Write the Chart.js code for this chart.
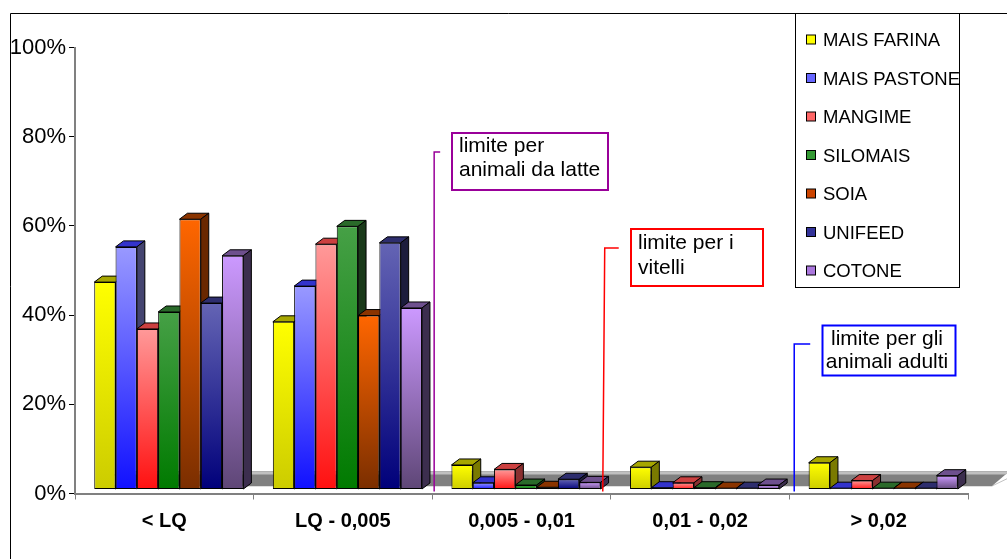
<!DOCTYPE html>
<html>
<head>
<meta charset="utf-8">
<script src="https://cdn.jsdelivr.net/npm/chart.js@4/dist/chart.umd.min.js"></script>
<style>
  html, body { margin: 0; padding: 0; background: #fff; }
  #wrap { width: 1007px; height: 559px; position: relative; }
</style>
</head>
<body>
<div id="wrap"><canvas id="c" width="1007" height="559"></canvas></div>
<script>
// Ranges of measured concentration (categories) and share of samples per feed type
const categories = ['< LQ', 'LQ - 0,005', '0,005 - 0,01', '0,01 - 0,02', '> 0,02'];
const seriesNames = ['MAIS FARINA', 'MAIS PASTONE', 'MANGIME', 'SILOMAIS', 'SOIA', 'UNIFEED', 'COTONE'];
const maisFarina  = [46.5, 37.6, 5.5, 5.0, 6.0];
const maisPastone = [54.4, 45.6, 1.5, 0.4, 0.3];
const mangime     = [36.0, 55.0, 4.5, 1.5, 2.0];
const silomais    = [39.8, 59.0, 1.0, 0.4, 0.3];
const soia        = [60.6, 39.0, 0.5, 0.3, 0.3];
const unifeed     = [41.8, 55.3, 2.3, 0.3, 0.3];
const cotone      = [52.4, 40.7, 1.6, 1.0, 3.1];
const yTicks = [0, 20, 40, 60, 80, 100];
const limitTexts = [['limite per', 'animali da latte'], ['limite per i', 'vitelli'], ['limite per gli', 'animali adulti']];

const seriesValues = [maisFarina, maisPastone, mangime, silomais, soia, unifeed, cotone];

// Colours of each column: front gradient (top, bottom), top face, side face, legend key
const looks = [
  { front: ['#ffff00', '#cccc00'], top: '#a6a600', side: '#7a7a00', key: '#ffff00' },
  { front: ['#9999ff', '#1010ff'], top: '#3333cc', side: '#444470', key: '#6666ff' },
  { front: ['#ff9999', '#ff1010'], top: '#cc4040', side: '#8a3030', key: '#ff6666' },
  { front: ['#46a046', '#007a00'], top: '#2a6a2a', side: '#1a3a1a', key: '#339933' },
  { front: ['#ff6600', '#7a2e00'], top: '#8a3400', side: '#6a2800', key: '#cc4400' },
  { front: ['#6464b4', '#00007a'], top: '#2e2e6e', side: '#1c1c3c', key: '#333399' },
  { front: ['#cc99ff', '#5e4676'], top: '#6e508e', side: '#3c2e4e', key: '#aa77dd' }
];

const FONT = "'Liberation Sans', Arial, sans-serif";
const depth = { dx: 8, dy: -6 };      // projection of the column depth
const shift = { x: 4.5, y: -4 };      // columns sit slightly behind the front axis

function frontFill(i) {
  return (c) => {
    const chart = c.chart;
    const ys = chart.scales && chart.scales.y;
    if (c.type !== 'data' || !chart.chartArea || !ys) return looks[i].front[0];
    const top = ys.getPixelForValue(c.raw);
    const bottom = ys.getPixelForValue(0);
    const g = chart.ctx.createLinearGradient(0, top, 0, bottom + 0.01);
    g.addColorStop(0, looks[i].front[0]);
    g.addColorStop(1, looks[i].front[1]);
    return g;
  };
}

// Limit markers: vertical line at a category-axis position and a text box
const limits = [
  { text: limitTexts[0], at: 1.511, atBottom: 1.511, color: '#990099', top: 152, hook: 6,
    box: [452, 133, 156, 57], tx: 459, lines: [152, 176], align: 'left' },
  { text: limitTexts[1], at: 2.466, atBottom: 2.455, color: '#ff0000', top: 248, hook: 14,
    box: [631, 229, 132, 57], tx: 638, lines: [249, 274], align: 'left' },
  { text: limitTexts[2], at: 3.527, atBottom: 3.527, color: '#0000ff', top: 344, hook: 16,
    box: [822.5, 325.5, 133, 50], tx: 887, lines: [345, 368], align: 'center' }
];

const columns3d = {
  id: 'columns3d',
  beforeDatasetsDraw(chart) {
    const { ctx, chartArea } = chart;
    const y0 = chart.scales.y.getPixelForValue(0);
    const L = chartArea.left, R = chartArea.right;
    const fy = y0 - 7.5, by = y0 - 22;
    ctx.save();
    // floor outline (left end stays open and white)
    ctx.beginPath();
    ctx.moveTo(L + 25, fy); ctx.lineTo(L + 44, by); ctx.lineTo(R + 54, by); ctx.lineTo(R + 24, fy);
    ctx.closePath();
    ctx.fillStyle = '#ffffff'; ctx.fill();
    ctx.strokeStyle = '#c0c0c0'; ctx.lineWidth = 1; ctx.stroke();
    // shaded floor band
    ctx.beginPath();
    ctx.moveTo(L + 45, fy); ctx.lineTo(L + 45, by); ctx.lineTo(R + 41, by); ctx.lineTo(R + 24, fy);
    ctx.closePath();
    ctx.fillStyle = '#808080'; ctx.fill();
    ctx.beginPath();
    ctx.moveTo(L + 45, by + 3); ctx.lineTo(L + 45, by); ctx.lineTo(R + 41, by); ctx.lineTo(R + 38, by + 3);
    ctx.closePath();
    ctx.fillStyle = '#c0c0c0'; ctx.fill();
    ctx.restore();

    ctx.save();
    ctx.translate(shift.x, shift.y);
    // top and side faces, left to right; front faces are drawn over them
    chart.data.datasets.forEach((ds, i) => {
      const meta = chart.getDatasetMeta(i);
      meta.data.forEach((el) => {
        const p = el.getProps(['x', 'y', 'base', 'width'], true);
        const x0 = p.x - p.width / 2, x1 = p.x + p.width / 2;
        const yt = Math.min(p.y, p.base), yb = Math.max(p.y, p.base);
        ctx.lineWidth = 1;
        ctx.strokeStyle = '#000';
        ctx.beginPath();
        ctx.moveTo(x0, yt); ctx.lineTo(x1, yt);
        ctx.lineTo(x1 + depth.dx, yt + depth.dy); ctx.lineTo(x0 + depth.dx, yt + depth.dy);
        ctx.closePath();
        ctx.fillStyle = looks[i].top; ctx.fill(); ctx.stroke();
        ctx.beginPath();
        ctx.moveTo(x1, yt); ctx.lineTo(x1 + depth.dx, yt + depth.dy);
        ctx.lineTo(x1 + depth.dx, yb + depth.dy); ctx.lineTo(x1, yb);
        ctx.closePath();
        ctx.fillStyle = looks[i].side; ctx.fill(); ctx.stroke();
      });
    });
  },
  afterDatasetsDraw(chart) {
    chart.ctx.restore();
  },
  afterDraw(chart) {
    const { ctx } = chart;
    const xs = chart.scales.x;
    const y0 = chart.scales.y.getPixelForValue(0);
    ctx.save();
    // outer frame
    ctx.strokeStyle = '#000'; ctx.lineWidth = 1;
    ctx.beginPath(); ctx.moveTo(10.5, 559); ctx.lineTo(10.5, 13.5); ctx.lineTo(1007, 13.5); ctx.stroke();

    // limit lines and their boxes
    limits.forEach((lm) => {
      const xt = xs.getPixelForValue(lm.at);
      const xb = xs.getPixelForValue(lm.atBottom);
      ctx.strokeStyle = lm.color; ctx.lineWidth = 1.5;
      ctx.beginPath();
      ctx.moveTo(xt + lm.hook, lm.top); ctx.lineTo(xt, lm.top); ctx.lineTo(xb, y0 - 2);
      ctx.stroke();
      const [bx, by, bw, bh] = lm.box;
      ctx.fillStyle = '#fff';
      ctx.fillRect(bx, by, bw, bh);
      ctx.lineWidth = 2;
      ctx.strokeRect(bx, by, bw, bh);
      ctx.fillStyle = '#000';
      ctx.font = '21px ' + FONT;
      ctx.textAlign = lm.align;
      ctx.textBaseline = 'alphabetic';
      lm.text.forEach((t, k) => ctx.fillText(t, lm.tx, lm.lines[k]));
    });

    // legend
    ctx.lineWidth = 1; ctx.strokeStyle = '#000';
    ctx.fillStyle = '#fff';
    ctx.fillRect(795.5, 13.5, 164, 274);
    ctx.strokeRect(795.5, 13.5, 164, 274);
    ctx.font = '18.5px ' + FONT;
    ctx.textAlign = 'left';
    ctx.textBaseline = 'middle';
    chart.data.datasets.forEach((ds, i) => {
      const cy = 40 + i * 38.5;
      ctx.fillStyle = looks[i].key;
      ctx.fillRect(806.5, cy - 5, 9, 9);
      ctx.strokeRect(806.5, cy - 5, 9, 9);
      ctx.fillStyle = '#000';
      ctx.fillText(ds.label, 823, cy + 1);
    });
    ctx.restore();
  }
};

new Chart(document.getElementById('c'), {
  type: 'bar',
  data: {
    labels: categories,
    datasets: seriesNames.map((name, i) => ({
      label: name,
      data: seriesValues[i],
      backgroundColor: frontFill(i),
      borderColor: '#000',
      borderWidth: 1,
      borderSkipped: false,
      categoryPercentage: 0.835,
      barPercentage: 1.0
    }))
  },
  options: {
    responsive: false,
    animation: false,
    devicePixelRatio: 1,
    layout: { padding: { top: 47.5, right: 39, left: 0, bottom: 0 } },
    plugins: { legend: { display: false }, tooltip: { enabled: false } },
    scales: {
      y: {
        min: 0, max: 100,
        afterFit: (s) => { s.width = 75; },
        afterBuildTicks: (s) => { s.ticks = yTicks.map((v) => ({ value: v })); },
        ticks: {
          callback: (v) => v + '%',
          color: '#000',
          padding: 3,
          font: { family: FONT, size: 22 }
        },
        grid: { drawOnChartArea: false, tickLength: 6, color: '#000' },
        border: { color: '#808080', width: 2 }
      },
      x: {
        afterFit: (s) => { s.height = 65.5; },
        ticks: {
          color: '#000',
          padding: 10,
          font: { family: FONT, size: 20, weight: 'bold' }
        },
        grid: { drawOnChartArea: false, tickLength: 6, color: '#808080', offset: true },
        border: { color: '#808080', width: 2 }
      }
    }
  },
  plugins: [columns3d]
});
</script>
</body>
</html>
